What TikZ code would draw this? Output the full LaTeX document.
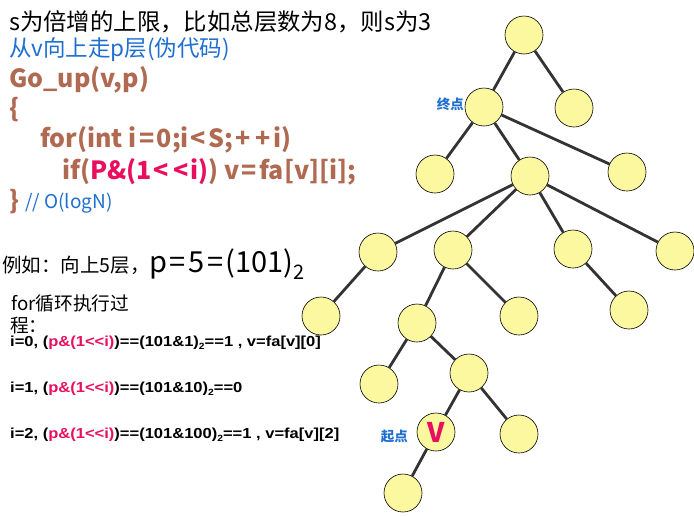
\documentclass[tikz,border=0pt]{standalone}
\usepackage{fontspec}
\setmainfont{Noto Sans CJK SC}[Ligatures=NoCommon]
\newfontfamily\arialb{Liberation Sans}[FakeStretch=1.14]
\definecolor{nodefill}{HTML}{FCF8A0}
\definecolor{edgecol}{HTML}{333333}
\definecolor{codebrown}{HTML}{B06A52}
\definecolor{hotpink}{HTML}{E8105E}
\definecolor{textblue}{HTML}{1E6FD0}
\newcommand{\spc}[1]{\kern2.5pt#1\kern2.5pt}
\newcommand{\ltsym}{\kern2pt{<}\kern2pt}
\tikzset{
  tn/.style={circle, draw=black, line width=0.6pt, fill=nodefill, minimum size=38pt, inner sep=0pt},
  edge/.style={draw=edgecol, line width=2.8pt},
  txt/.style={anchor=west, inner sep=0pt},
  code/.style={txt, text=codebrown, font=\fontsize{25}{25}\selectfont\bfseries},
  trace/.style={txt, font=\arialb\fontsize{14.5}{14.5}\selectfont\bfseries},
  lbl/.style={text=textblue, font=\fontsize{13.5}{13.5}\selectfont\bfseries, inner sep=0pt}
}
\begin{document}
\begin{tikzpicture}[x=1pt,y=-1pt]
\useasboundingbox (0,0) rectangle (694,517);
% texts
\node[txt, font=\fontsize{23.4}{23.4}\selectfont] (t1) at (9,22) {s为倍增的上限，比如总层数为8，则s为3};
\node[txt, text=textblue, font=\fontsize{22.5}{22.5}\selectfont] (t2) at (9,50) {从v向上走p层(伪代码)};
\node[code] (t3) at (9,80) {Go\_up(v,p)};
\node[code] (t4) at (9,110) {\{};
\node[code] (t5) at (40,140) {for(int i\spc{=}0;i\ltsym S;\spc{+}\spc{+}i)};
\node[code] (t6) at (62,172) {if(\textcolor{hotpink}{P\&(1\ltsym\ltsym i)}) v\spc{=}fa[v][i];};
\node[code] (t7) at (9,202) {\}};
\node[txt, text=textblue, font=\fontsize{19}{19}\selectfont] (t8) at (25,203) {// O(logN)};
\node[txt] (t9) at (2,264) {{\fontsize{19.5}{19.5}\selectfont 例如：向上5层，}{\fontsize{29}{29}\selectfont p\spc{=}5\spc{=}(101)\raisebox{-7pt}{\fontsize{20}{20}\selectfont 2}}};
\node[txt, font=\fontsize{18.7}{18.7}\selectfont] (t10) at (11,303) {for循环执行过};
\node[txt, font=\fontsize{18.7}{18.7}\selectfont] (t11) at (10,326) {程：};
\node[trace] (t12) at (10,343) {i=0, (\textcolor{hotpink}{p\&(1<<i)})==(101\&1)\raisebox{-3pt}{\fontsize{9}{9}\selectfont 2}==1 , v=fa[v][0]};
\node[trace] (t13) at (10,389) {i=1, (\textcolor{hotpink}{p\&(1<<i)})==(101\&10)\raisebox{-3pt}{\fontsize{9}{9}\selectfont 2}==0};
\node[trace] (t14) at (10,435) {i=2, (\textcolor{hotpink}{p\&(1<<i)})==(101\&100)\raisebox{-3pt}{\fontsize{9}{9}\selectfont 2}==1 , v=fa[v][2]};
% tree nodes
\node[tn] (r) at (524,35) {};
\node[tn] (a) at (484,107) {};
\node[tn] (b) at (574,108) {};
\node[tn] (c) at (435,174) {};
\node[tn] (d) at (530,176) {};
\node[tn] (e) at (627,172) {};
\node[tn] (f) at (378,252) {};
\node[tn] (g) at (453,250) {};
\node[tn] (h) at (573,249) {};
\node[tn] (k) at (675,251) {};
\node[tn] (l) at (321,316) {};
\node[tn] (m) at (417,323) {};
\node[tn] (n) at (519,316) {};
\node[tn] (o) at (629,310) {};
\node[tn] (p) at (379,384) {};
\node[tn] (q) at (469,373) {};
\node[tn, text=hotpink, font=\fontsize{27}{27}\selectfont\bfseries] (v) at (436,432) {V};
\node[tn] (w) at (519,434) {};
\node[tn] (x) at (403,493) {};
% edges
\foreach \s/\t in {r/a,r/b,a/c,a/d,a/e,d/f,d/g,d/h,d/k,f/l,g/m,g/n,h/o,m/p,m/q,q/v,q/w,v/x}
  \draw[edge] (\s) -- (\t);
% labels
\node[lbl, anchor=east] (zd) at (464,104) {终点};
\node[lbl, anchor=east] (qd) at (408,436) {起点};
\end{tikzpicture}
\end{document}
